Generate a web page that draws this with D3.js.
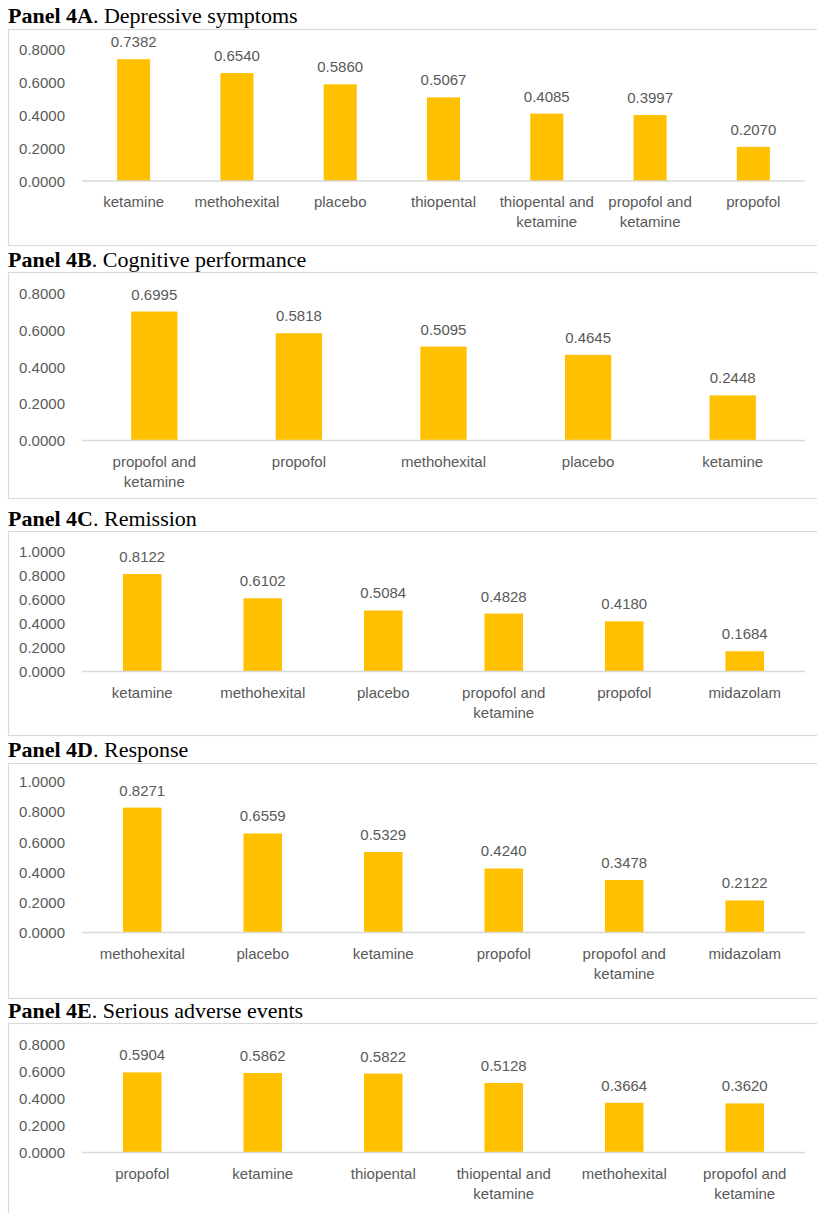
<!DOCTYPE html>
<html>
<head>
<meta charset="utf-8">
<script src="https://cdn.jsdelivr.net/npm/d3@7/dist/d3.min.js"></script>
<style>
  html, body { margin: 0; padding: 0; background: #fff; }
  svg { display: block; }
</style>
</head>
<body>
<svg id="chart" width="817" height="1213"></svg>
<script>
// ---------------- DATA ----------------
const panelLabels = ["Panel 4A", "Panel 4B", "Panel 4C", "Panel 4D", "Panel 4E"];
const panelTitles = ["Depressive symptoms", "Cognitive performance", "Remission", "Response", "Serious adverse events"];

const catsA = ["ketamine", "methohexital", "placebo", "thiopental", "thiopental and ketamine", "propofol and ketamine", "propofol"];
const valsA = [0.7382, 0.6540, 0.5860, 0.5067, 0.4085, 0.3997, 0.2070];

const catsB = ["propofol and ketamine", "propofol", "methohexital", "placebo", "ketamine"];
const valsB = [0.6995, 0.5818, 0.5095, 0.4645, 0.2448];

const catsC = ["ketamine", "methohexital", "placebo", "propofol and ketamine", "propofol", "midazolam"];
const valsC = [0.8122, 0.6102, 0.5084, 0.4828, 0.4180, 0.1684];

const catsD = ["methohexital", "placebo", "ketamine", "propofol", "propofol and ketamine", "midazolam"];
const valsD = [0.8271, 0.6559, 0.5329, 0.4240, 0.3478, 0.2122];

const catsE = ["propofol", "ketamine", "thiopental", "thiopental and ketamine", "methohexital", "propofol and ketamine"];
const valsE = [0.5904, 0.5862, 0.5822, 0.5128, 0.3664, 0.3620];

const ticksA = [0, 0.2, 0.4, 0.6, 0.8];
const ticksB = [0, 0.2, 0.4, 0.6, 0.8];
const ticksC = [0, 0.2, 0.4, 0.6, 0.8, 1.0];
const ticksD = [0, 0.2, 0.4, 0.6, 0.8, 1.0];
const ticksE = [0, 0.2, 0.4, 0.6, 0.8];

// ---------------- LAYOUT ----------------
const panels = [
  { cats: catsA, vals: valsA, ticks: ticksA, titleY: 23, boxTop: 29, boxBottom: 245, y0: 181, yTop: 49 },
  { cats: catsB, vals: valsB, ticks: ticksB, titleY: 267, boxTop: 272, boxBottom: 498, y0: 440.5, yTop: 293 },
  { cats: catsC, vals: valsC, ticks: ticksC, titleY: 526, boxTop: 531, boxBottom: 735, y0: 671.5, yTop: 551.5 },
  { cats: catsD, vals: valsD, ticks: ticksD, titleY: 757, boxTop: 763, boxBottom: 998, y0: 932.5, yTop: 781.5 },
  { cats: catsE, vals: valsE, ticks: ticksE, titleY: 1018, boxTop: 1023, boxBottom: 1240, y0: 1152.5, yTop: 1044 }
];

const plotLeft = 82, plotRight = 805;
const barColor = "#FFC000";
const textColor = "#595959";
const gridColor = "#d9d9d9";
const fontSans = "'Liberation Sans', Arial, sans-serif";
const fontSerif = "'Liberation Serif', 'Times New Roman', serif";
const fmt = d3.format(".4f");

const svg = d3.select("#chart");

panels.forEach((p, i) => {
  const g = svg.append("g");

  // Title
  const t = g.append("text")
    .attr("x", 8).attr("y", p.titleY)
    .attr("font-family", fontSerif).attr("font-size", 22)
    .attr("fill", "#000");
  t.append("tspan").attr("font-weight", "bold").text(panelLabels[i]);
  t.append("tspan").text(". " + panelTitles[i]);

  // Box
  g.append("rect")
    .attr("x", 8.5).attr("y", p.boxTop + 0.5)
    .attr("width", 840).attr("height", p.boxBottom - p.boxTop)
    .attr("fill", "none").attr("stroke", gridColor).attr("stroke-width", 1.2);

  const maxT = p.ticks[p.ticks.length - 1];
  const y = d3.scaleLinear().domain([0, maxT]).range([p.y0, p.yTop]);
  const x = d3.scaleBand().domain(p.cats).range([plotLeft, plotRight])
    .paddingInner(0.68).paddingOuter(0.34);

  // Y axis (labels only)
  const yAxis = d3.axisLeft(y).tickValues(p.ticks).tickFormat(fmt).tickSize(0).tickPadding(0);
  const ya = g.append("g").attr("transform", `translate(65,0)`).call(yAxis);
  ya.select(".domain").remove();
  ya.selectAll("text")
    .attr("font-family", fontSans).attr("font-size", 15)
    .attr("fill", textColor).attr("dy", "0.35em");

  // Bars
  g.selectAll("rect.bar").data(p.vals).enter().append("rect")
    .attr("class", "bar")
    .attr("x", (d, j) => x(p.cats[j]))
    .attr("y", d => y(d))
    .attr("width", x.bandwidth())
    .attr("height", d => p.y0 - y(d))
    .attr("fill", barColor);

  // Baseline (x axis)
  const xAxis = d3.axisBottom(x).tickSize(0).tickPadding(0);
  const xa = g.append("g").attr("transform", `translate(0,${p.y0})`).call(xAxis);
  xa.select(".domain").attr("stroke", gridColor).attr("stroke-width", 1.3)
    .attr("d", `M${plotLeft},0H${plotRight}`);
  const step = x.step();
  xa.selectAll(".tick text").each(function(d) {
    const el = d3.select(this);
    el.text(null).attr("font-family", fontSans).attr("font-size", 15).attr("fill", textColor)
      .attr("y", 0).attr("dy", null);
    const words = d.split(" ");
    const lines = [];
    let cur = [];
    const tmp = el.append("tspan");
    words.forEach(w => {
      const test = cur.concat([w]).join(" ");
      tmp.text(test);
      if (cur.length && tmp.node().getComputedTextLength() > step * 0.97) {
        lines.push(cur.join(" "));
        cur = [w];
      } else {
        cur.push(w);
      }
    });
    lines.push(cur.join(" "));
    tmp.remove();
    lines.forEach((ln, k) => {
      el.append("tspan").attr("x", 0).attr("y", 26 + k * 20).text(ln);
    });
  });

  // Value labels
  g.selectAll("text.val").data(p.vals).enter().append("text")
    .attr("class", "val")
    .attr("x", (d, j) => x(p.cats[j]) + x.bandwidth() / 2)
    .attr("y", d => y(d) - 12)
    .attr("text-anchor", "middle")
    .attr("font-family", fontSans).attr("font-size", 15)
    .attr("fill", textColor)
    .text(d => fmt(d));
});
</script>
</body>
</html>
